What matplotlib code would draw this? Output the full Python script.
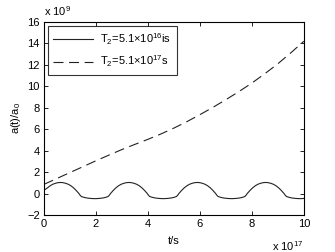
import matplotlib
matplotlib.use('Agg')
import matplotlib.pyplot as plt

plt.rcParams['font.family'] = ['Liberation Sans', 'DejaVu Sans']
plt.rcParams['mathtext.fontset'] = 'custom'
plt.rcParams['mathtext.rm'] = 'Liberation Sans'
plt.rcParams['mathtext.it'] = 'Liberation Sans'

# T2 = 5.1e16 s (solid), t in units of 1e17 s, a/a0 in units of 1e9
t_short = [0.00, 0.14, 0.24, 0.34, 0.44, 0.54, 0.64, 0.74, 0.84, 0.94, 1.04, 1.14, 1.24, 1.34, 1.39, 1.44,
           1.56, 1.66, 1.76, 1.86, 1.96, 2.06, 2.16, 2.26, 2.36,
           2.47, 2.52, 2.57, 2.67, 2.77, 2.87, 2.97, 3.07, 3.17, 3.27, 3.37, 3.47, 3.57, 3.67, 3.77, 3.87, 3.97, 4.02, 4.07,
           4.19, 4.29, 4.39, 4.49, 4.59, 4.69, 4.79, 4.89, 4.99,
           5.10, 5.15, 5.20, 5.30, 5.40, 5.50, 5.60, 5.70, 5.80, 5.90, 6.00, 6.10, 6.20, 6.30, 6.40, 6.50, 6.60, 6.65, 6.70,
           6.82, 6.92, 7.02, 7.12, 7.22, 7.32, 7.42, 7.52, 7.62,
           7.73, 7.78, 7.83, 7.93, 8.03, 8.13, 8.23, 8.33, 8.43, 8.53, 8.63, 8.73, 8.83, 8.93, 9.03, 9.13, 9.23, 9.28, 9.33,
           9.45, 9.55, 9.65, 9.75, 9.85, 9.95, 10.00]
a_short = [0.30, 0.53, 0.72, 0.86, 0.95, 1.01, 1.03, 1.01, 0.95, 0.86, 0.72, 0.53, 0.29, 0.02, -0.15, -0.28,
           -0.37, -0.42, -0.45, -0.47, -0.48, -0.47, -0.45, -0.42, -0.37,
           -0.28, -0.15, 0.02, 0.29, 0.53, 0.72, 0.86, 0.95, 1.01, 1.03, 1.01, 0.95, 0.86, 0.72, 0.53, 0.29, 0.02, -0.15, -0.28,
           -0.37, -0.42, -0.45, -0.47, -0.48, -0.47, -0.45, -0.42, -0.37,
           -0.28, -0.15, 0.02, 0.29, 0.53, 0.72, 0.86, 0.95, 1.01, 1.03, 1.01, 0.95, 0.86, 0.72, 0.53, 0.29, 0.02, -0.15, -0.28,
           -0.37, -0.42, -0.45, -0.47, -0.48, -0.47, -0.45, -0.42, -0.37,
           -0.28, -0.15, 0.02, 0.29, 0.53, 0.72, 0.86, 0.95, 1.01, 1.03, 1.01, 0.95, 0.86, 0.72, 0.53, 0.29, 0.02, -0.15, -0.28,
           -0.37, -0.42, -0.45, -0.47, -0.48, -0.47, -0.46]

# T2 = 5.1e17 s (dashed)
t_long = [0, 0.5, 1, 1.5, 2, 2.5, 3, 3.5, 4, 4.5, 5, 5.5, 6, 6.5, 7, 7.5, 8, 8.5, 9, 9.5, 10]
a_long = [0.85, 1.4, 1.95, 2.5, 3.05, 3.58, 4.1, 4.58, 5.05, 5.55, 6.1, 6.7, 7.35, 8.03, 8.75, 9.5,
          10.3, 11.17, 12.1, 13.12, 14.2]

xticks = [0, 2, 4, 6, 8, 10]
yticks = [-2, 0, 2, 4, 6, 8, 10, 12, 14, 16]

fig = plt.figure(figsize=(3.35, 2.52), dpi=100)
ax = fig.add_axes([0.131, 0.147, 0.776, 0.766])

ax.plot(t_short, a_short, '-', color='#222222', lw=0.8, label='T$_2$=5.1\u00d710$^{16}$is')
ax.plot(t_long, a_long, '--', color='#222222', lw=0.8, dashes=(9, 5), label='T$_2$=5.1\u00d710$^{17}$s')

ax.set_xlim(0, 10)
ax.set_ylim(-2, 16)
ax.set_xticks(xticks)
ax.set_yticks(yticks)
ax.tick_params(direction='in', length=3, width=0.6, labelsize=8, top=True, right=True, pad=3)
for s in ax.spines.values():
    s.set_linewidth(0.8)

ax.set_xlabel('t/s', fontsize=8, labelpad=5)
ax.set_ylabel('a(t)/a$_0$', fontsize=8, labelpad=3)

ax.text(0.0, 1.02, 'x 10$^{9}$', transform=ax.transAxes, fontsize=8, ha='left', va='bottom')
ax.text(1.0, -0.125, 'x 10$^{17}$', transform=ax.transAxes, fontsize=8, ha='right', va='top')

leg = ax.legend(loc='upper left', fontsize=8, frameon=True, fancybox=False, edgecolor='black',
                borderaxespad=0.35, handlelength=3.6, labelspacing=0.6, borderpad=0.5, handletextpad=0.6)
leg.get_frame().set_linewidth(0.8)

fig.savefig('out.png', dpi=100)
